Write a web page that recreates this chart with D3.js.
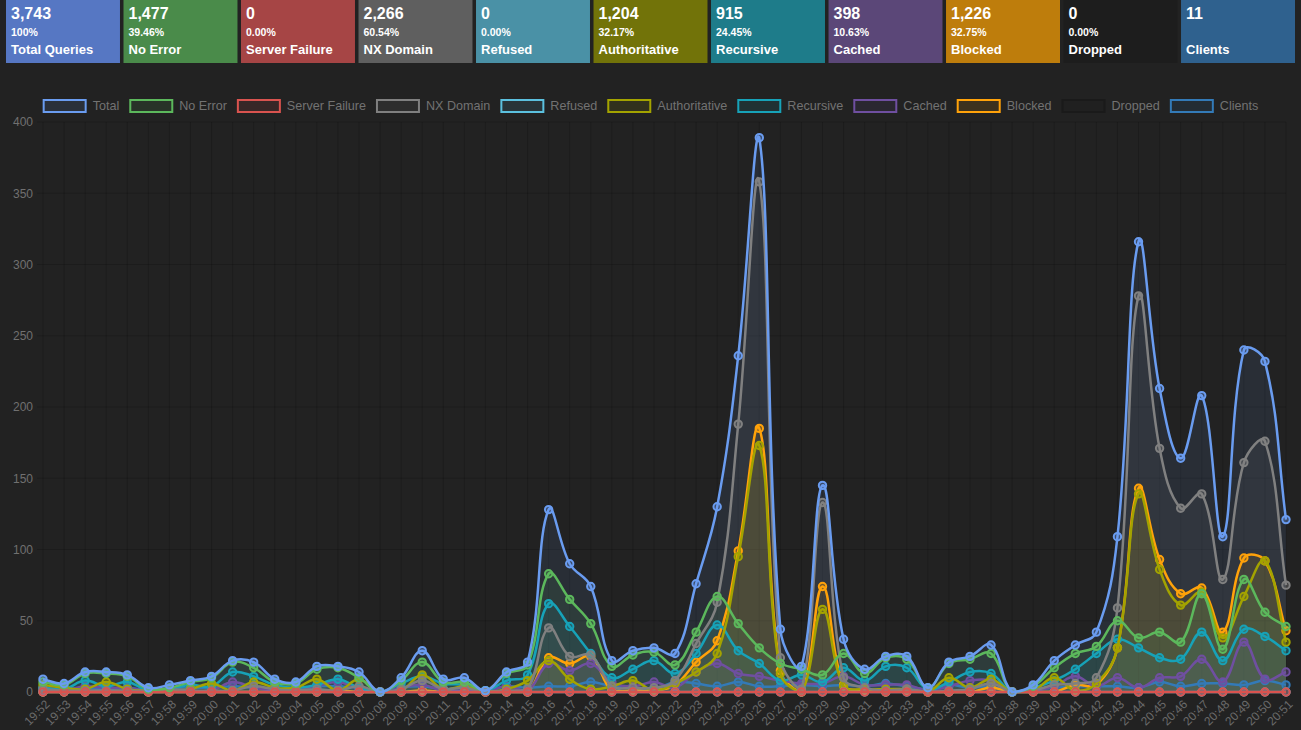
<!DOCTYPE html>
<html><head><meta charset="utf-8">
<script src="https://cdn.jsdelivr.net/npm/d3@7"></script>
<style>
html,body{margin:0;padding:0;background:#222;}
body{width:1301px;height:730px;overflow:hidden;font-family:"Liberation Sans",Arial,Helvetica,sans-serif;}
</style></head><body>
<svg id="c" width="1301" height="730"></svg>
<script>
// ---- stat boxes ----
const statNames = ["Total Queries","No Error","Server Failure","NX Domain","Refused","Authoritative","Recursive","Cached","Blocked","Dropped","Clients"];
const statValues = ["3,743","1,477","0","2,266","0","1,204","915","398","1,226","0","11"];
const statPercents = ["100%","39.46%","0.00%","60.54%","0.00%","32.17%","24.45%","10.63%","32.75%","0.00%",""];
const statColors = ["#5677c3","#4a8b4a","#a64545","#5f5f5f","#4a91a6","#727309","#1e7c8a","#5b4778","#be7d0c","#1d1d1d","#2f618e"];

// ---- chart ----
const labels = ["19:52","19:53","19:54","19:55","19:56","19:57","19:58","19:59","20:00","20:01",
"20:02","20:03","20:04","20:05","20:06","20:07","20:08","20:09","20:10","20:11",
"20:12","20:13","20:14","20:15","20:16","20:17","20:18","20:19","20:20","20:21",
"20:22","20:23","20:24","20:25","20:26","20:27","20:28","20:29","20:30","20:31",
"20:32","20:33","20:34","20:35","20:36","20:37","20:38","20:39","20:40","20:41",
"20:42","20:43","20:44","20:45","20:46","20:47","20:48","20:49","20:50","20:51"];
const yTicks = [0,50,100,150,200,250,300,350,400];
const seriesNames = ["Total","No Error","Server Failure","NX Domain","Refused","Authoritative","Recursive","Cached","Blocked","Dropped","Clients"];
const seriesColors = ["#6a9cf0","#5cb85c","#d9534f","#808080","#5bc0de","#a3a300","#17a2b8","#6f4fa0","#ffa20a","#1a1a1a","#337ab7"];

const total = [9,6,14,14,12,3,5,8,11,22, 21,9,7,18,18,14,0,10,29,9, 10,1,14,21,128,90,74,22,29,31, 27,76,130,236,389,44,18,145,37,16, 25,25,3,21,25,33,0,5,22,33, 42,109,316,213,164,208,109,240,232,121];
const noError = [7,5,13,13,11,2,3,7,10,21, 17,7,6,16,17,10,0,8,21,7, 7,1,13,19,83,65,48,18,26,28, 19,42,67,48,31,20,16,12,27,13, 24,23,3,20,23,27,0,4,17,27, 32,50,38,42,35,69,30,79,56,46];
const serverFailure = [0,0,0,0,0,0,0,0,0,0, 0,0,0,0,0,0,0,0,0,0, 0,0,0,0,0,0,0,0,0,0, 0,0,0,0,0,0,0,0,0,0, 0,0,0,0,0,0,0,0,0,0, 0,0,0,0,0,0,0,0,0,0];
const nxDomain = [2,1,1,1,1,1,2,1,1,1, 4,2,1,2,1,4,0,2,8,2, 3,0,1,2,45,25,26,4,3,3, 8,34,63,188,358,24,2,133,10,3, 1,2,0,1,2,6,0,1,5,6, 10,59,278,171,129,139,79,161,176,75];
const refused = [0,0,0,0,0,0,0,0,0,0, 0,0,0,0,0,0,0,0,0,0, 0,0,0,0,0,0,0,0,0,0, 0,0,0,0,0,0,0,0,0,0, 0,0,0,0,0,0,0,0,0,0, 0,0,0,0,0,0,0,0,0,0];
const authoritative = [5,3,2,7,2,1,1,2,6,1, 7,3,3,9,1,9,0,1,12,2, 4,0,2,8,22,9,2,4,8,1, 6,14,27,95,173,13,0,58,4,2, 2,2,0,10,3,9,0,1,10,1, 6,31,139,86,61,70,38,67,92,35];
const recursive = [3,2,8,4,7,1,2,5,4,14, 11,5,3,5,9,3,0,6,11,6, 5,1,8,12,62,46,27,10,16,22, 13,27,47,29,20,8,12,7,17,8, 18,17,2,7,14,13,0,3,8,16, 27,37,31,24,23,42,22,44,39,29];
const cached = [1,1,4,3,3,1,2,1,1,7, 3,1,1,4,7,2,0,3,5,1, 1,0,4,1,20,15,20,7,4,7, 3,14,20,13,11,8,6,6,11,5, 5,5,1,4,8,8,0,1,4,11, 4,10,3,10,11,23,7,35,9,14];
const blocked = [0,0,0,0,0,0,0,0,0,0, 0,0,0,0,1,0,0,0,1,0, 0,0,0,0,24,20,25,1,1,1, 5,21,36,99,185,15,0,74,5,1, 0,1,0,0,0,3,0,0,0,5, 5,31,143,93,69,73,42,94,92,43];
const dropped = [0,0,0,0,0,0,0,0,0,0, 0,0,0,0,0,0,0,0,0,0, 0,0,0,0,0,0,0,0,0,0, 0,0,0,0,0,0,0,0,0,0, 0,0,0,0,0,0,0,0,0,0, 0,0,0,0,0,0,0,0,0,0];
const clients = [3,2,3,2,3,1,2,3,3,4, 3,2,2,4,4,3,0,3,4,2, 3,1,4,3,4,4,7,4,3,2, 7,6,4,7,4,4,5,4,5,4, 6,4,2,5,3,4,0,2,3,4, 4,4,3,7,4,6,6,5,8,5];

const seriesData = [total,noError,serverFailure,nxDomain,refused,authoritative,recursive,cached,blocked,dropped,clients];

(function(){
const svg = d3.select("#c");
const W = 1301;

// stat boxes
const boxX = d3.scaleBand().domain(d3.range(statNames.length)).range([6, 1295]).paddingInner(0.03).paddingOuter(0);
const boxes = svg.append("g").selectAll("g").data(statNames).join("g")
  .attr("transform", (d,i)=>`translate(${boxX(i)},0)`);
boxes.append("rect").attr("width", boxX.bandwidth()).attr("height", 63).attr("fill", (d,i)=>statColors[i]);
boxes.append("text").attr("x",5).attr("y",19).attr("fill","#fff").attr("font-size","16px").attr("font-weight","bold").text((d,i)=>statValues[i]);
boxes.append("text").attr("x",5).attr("y",36).attr("fill","#fff").attr("font-size","10.5px").attr("font-weight","bold").text((d,i)=>statPercents[i]);
boxes.append("text").attr("x",5).attr("y",54).attr("fill","#fff").attr("font-size","13px").attr("font-weight","bold").text(d=>d);

// scales
const pL = 43, pR = 1286, pT = 122, pB = 692;
const x = d3.scalePoint().domain(labels).range([pL, pR]);
const y = d3.scaleLinear().domain([0, 400]).range([pB, pT]);

// grid
const grid = svg.append("g");
grid.selectAll("line.v").data(labels).join("line").attr("class","v")
  .attr("x1", d=>x(d)).attr("x2", d=>x(d)).attr("y1", pT).attr("y2", pB+6)
  .attr("stroke","rgba(0,0,0,0.16)").attr("stroke-width",1);
grid.selectAll("line.h").data(yTicks).join("line").attr("class","h")
  .attr("x1", pL-6).attr("x2", pR).attr("y1", d=>y(d)).attr("y2", d=>y(d))
  .attr("stroke","rgba(0,0,0,0.16)").attr("stroke-width",1);

// axes labels
const yAxis = d3.axisLeft(y).tickValues(yTicks).tickSize(0).tickPadding(10);
const ya = svg.append("g").attr("transform",`translate(${pL},0)`).call(yAxis);
ya.select(".domain").remove();
ya.selectAll("text").attr("fill","#707070").attr("font-size","12px").attr("font-family","Liberation Sans, Arial, sans-serif");

const xAxis = d3.axisBottom(x).tickSize(0).tickPadding(0);
const xa = svg.append("g").attr("transform",`translate(0,${pB})`).call(xAxis);
xa.select(".domain").remove();
xa.selectAll("text").attr("fill","#6a6a6a").attr("font-size","12px").attr("font-family","Liberation Sans, Arial, sans-serif")
  .attr("text-anchor","end").attr("dy","0.35em")
  .attr("transform","translate(4,10) rotate(-45)");

// spline (Chart.js style tension 0.4, capped to area)
function splinePath(pts) {
  const t = 0.4;
  const cxf = v=>Math.max(pL, Math.min(pR, v));
  const cyf = v=>Math.max(pT, Math.min(pB, v));
  const cps = pts.map((p,i)=>{
    const pr = pts[i-1]||p, nx = pts[i+1]||p;
    const d01 = Math.hypot(p[0]-pr[0], p[1]-pr[1]);
    const d12 = Math.hypot(nx[0]-p[0], nx[1]-p[1]);
    let s01 = d01/(d01+d12), s12 = d12/(d01+d12);
    if (isNaN(s01)) s01 = 0; if (isNaN(s12)) s12 = 0;
    const fa = t*s01, fb = t*s12;
    return {
      px: cxf(p[0]-fa*(nx[0]-pr[0])), py: cyf(p[1]-fa*(nx[1]-pr[1])),
      nx: cxf(p[0]+fb*(nx[0]-pr[0])), ny: cyf(p[1]+fb*(nx[1]-pr[1]))
    };
  });
  const p = d3.path();
  p.moveTo(pts[0][0], pts[0][1]);
  for (let i=1;i<pts.length;i++) {
    p.bezierCurveTo(cps[i-1].nx, cps[i-1].ny, cps[i].px, cps[i].py, pts[i][0], pts[i][1]);
  }
  return p.toString();
}

function alpha(c, a) { const col = d3.color(c); col.opacity = a; return col.toString(); }

const order = d3.range(seriesData.length).reverse();
const fills = svg.append("g");
const lines = svg.append("g");
order.forEach(si=>{
  const pts = seriesData[si].map((v,i)=>[x(labels[i]), y(v)]);
  const d = splinePath(pts);
  fills.append("path").attr("d", d + `L${pts[pts.length-1][0]},${y(0)}L${pts[0][0]},${y(0)}Z`)
    .attr("fill", alpha(seriesColors[si], 0.1));
});
order.forEach(si=>{
  const pts = seriesData[si].map((v,i)=>[x(labels[i]), y(v)]);
  const g = lines.append("g");
  g.append("path").attr("d", splinePath(pts)).attr("fill","none")
    .attr("stroke", seriesColors[si]).attr("stroke-width",2.5).attr("stroke-linejoin","round");
  g.selectAll("circle").data(pts).join("circle")
    .attr("cx", d=>d[0]).attr("cy", d=>d[1]).attr("r",3.7)
    .attr("fill", alpha(seriesColors[si], 0.35)).attr("stroke", seriesColors[si]).attr("stroke-width",2);
});

// legend
const leg = svg.append("g");
const items = leg.selectAll("g").data(seriesNames).join("g");
items.append("rect").attr("x",1).attr("y",-6).attr("width",42).attr("height",12)
  .attr("fill",(d,i)=>alpha(seriesColors[i],0.12)).attr("stroke",(d,i)=>seriesColors[i]).attr("stroke-width",2);
items.append("text").attr("x",50).attr("y",0).attr("dy","0.35em").attr("fill","#727272").attr("font-size","12.6px").text(d=>d);
const widths = [];
items.each(function(){ widths.push(50 + d3.select(this).select("text").node().getComputedTextLength()); });
const totalW = d3.sum(widths) + 10*(widths.length-1);
let cx0 = (W - totalW)/2;
items.attr("transform",(d,i)=>{ const tx = cx0; cx0 += widths[i] + 10; return `translate(${tx},106)`; });
})();
</script>
</body></html>
